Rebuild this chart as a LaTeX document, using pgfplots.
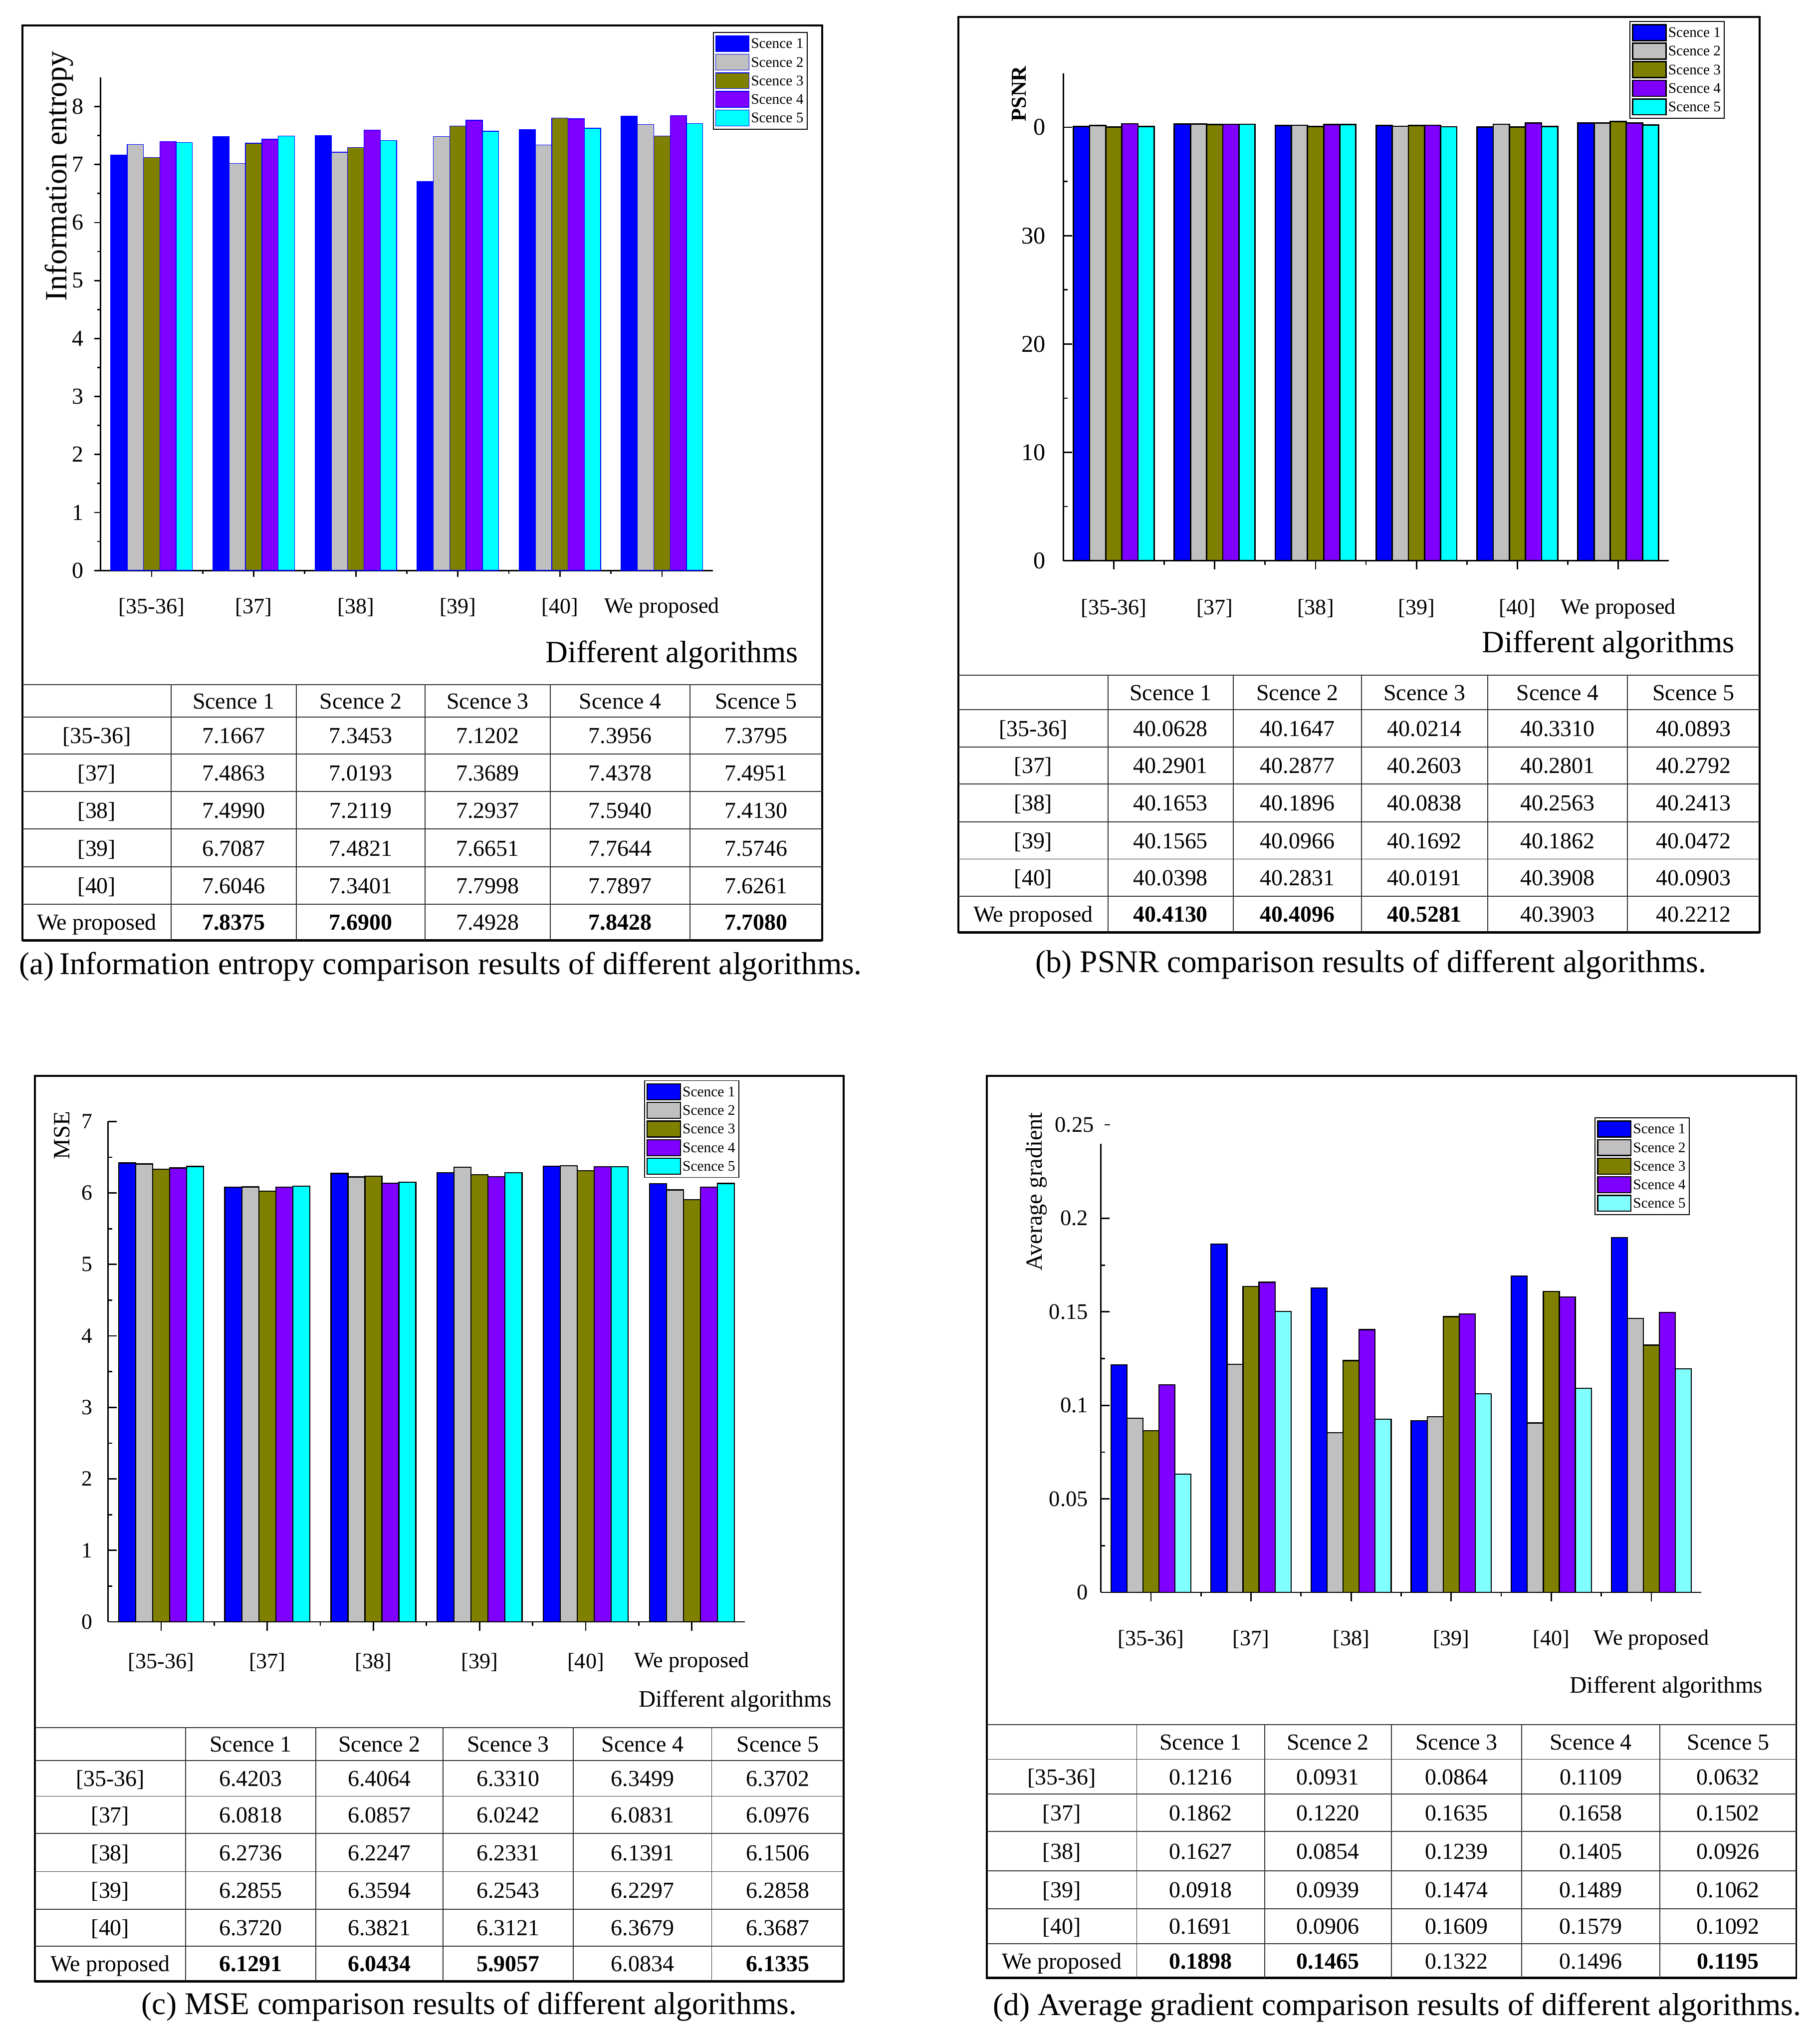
\documentclass[border=0pt]{standalone}
\usepackage{pgfplots}
\usepackage{pgfplotstable}
\pgfplotsset{compat=1.18}
\usepackage{fontspec}
\setmainfont{Liberation Serif}

\definecolor{sc1}{RGB}{0,0,255}
\definecolor{sc2}{RGB}{192,192,192}
\definecolor{sc3}{RGB}{128,128,0}
\definecolor{sc4}{RGB}{128,0,255}
\definecolor{sc5}{RGB}{0,255,255}
\definecolor{sc5d}{RGB}{128,255,255}

\newcommand\fs[1]{\fontsize{#1}{#1}\selectfont}
\def\u{0.2mm}

% rows: [35-36] [37] [38] [39] [40] We proposed
\pgfplotstableread{
s1     s2     s3     s4     s5
7.1667 7.3453 7.1202 7.3956 7.3795
7.4863 7.0193 7.3689 7.4378 7.4951
7.4990 7.2119 7.2937 7.5940 7.4130
6.7087 7.4821 7.6651 7.7644 7.5746
7.6046 7.3401 7.7998 7.7897 7.6261
7.8375 7.6900 7.4928 7.8428 7.7080
}\entropy

\pgfplotstableread{
s1      s2      s3      s4      s5
40.0628 40.1647 40.0214 40.3310 40.0893
40.2901 40.2877 40.2603 40.2801 40.2792
40.1653 40.1896 40.0838 40.2563 40.2413
40.1565 40.0966 40.1692 40.1862 40.0472
40.0398 40.2831 40.0191 40.3908 40.0903
40.4130 40.4096 40.5281 40.3903 40.2212
}\psnr

\pgfplotstableread{
s1     s2     s3     s4     s5
6.4203 6.4064 6.3310 6.3499 6.3702
6.0818 6.0857 6.0242 6.0831 6.0976
6.2736 6.2247 6.2331 6.1391 6.1506
6.2855 6.3594 6.2543 6.2297 6.2858
6.3720 6.3821 6.3121 6.3679 6.3687
6.1291 6.0434 5.9057 6.0834 6.1335
}\mse

\pgfplotstableread{
s1     s2     s3     s4     s5
0.1216 0.0931 0.0864 0.1109 0.0632
0.1862 0.1220 0.1635 0.1658 0.1502
0.1627 0.0854 0.1239 0.1405 0.0926
0.0918 0.0939 0.1474 0.1489 0.1062
0.1691 0.0906 0.1609 0.1579 0.1092
0.1898 0.1465 0.1322 0.1496 0.1195
}\gradient

\pgfplotsset{
  panel/.style={
    scale only axis, anchor=south west, clip=false,
    xmin=-0.5, xmax=5.5, ymin=0,
    axis lines*=left,
    axis line style={line width=0.6pt},
    xtick={0,...,5},
    xticklabels={{[35-36]},{[37]},{[38]},{[39]},{[40]},{We proposed}},
    minor x tick num=1, minor y tick num=1,
    major tick length=1.35mm, minor tick length=0.63mm,
    tick style={black, line width=0.6pt},
    tick align=inside,
    xticklabel style={font=\fs{9.6}, anchor=center, inner sep=0pt},
    yticklabel style={anchor=east, inner sep=0pt},
    ybar=0pt, bar width=0.16,
    legend cell align=left,
    legend image code/.code={\draw[##1] (0mm,-1.22mm) rectangle (5.1mm,1.22mm);},
    legend style={anchor=north west, font=\fs{6.4}, draw=black, line width=0.4pt,
      inner sep=0.3mm, row sep=0pt,
      nodes={inner sep=0.25mm, text height=1.9mm, text depth=0.45mm}},
  },
}

% five series of one panel; #2 is the colour of scene 5
\newcommand\fivebars[2]{%
  \addplot[fill=sc1, bar shift=-0.32] table[x expr=\coordindex, y=s1] {#1};
  \addplot[fill=sc2, bar shift=-0.16] table[x expr=\coordindex, y=s2] {#1};
  \addplot[fill=sc3, bar shift=0]     table[x expr=\coordindex, y=s3] {#1};
  \addplot[fill=sc4, bar shift=0.16]  table[x expr=\coordindex, y=s4] {#1};
  \addplot[fill=#2,  bar shift=0.32]  table[x expr=\coordindex, y=s5] {#1};
  \legend{Scence 1,Scence 2,Scence 3,Scence 4,Scence 5}
}

% table under a chart: #1 data, #2 column borders, #3 row borders, #4 bold flags of last row
\newcommand\datatable[4]{%
  \begin{scope}[every node/.style={font=\fs{10}, inner sep=0pt, text height=6.9pt, text depth=0pt}]
    \pgfmathsetmacro\xl{{#2}[0]}\pgfmathsetmacro\xr{{#2}[6]}
    \pgfmathsetmacro\yt{{#3}[0]}\pgfmathsetmacro\yb{{#3}[7]}
    \foreach \i in {0,...,6}{
      \pgfmathsetmacro\yy{{#3}[\i]}
      \draw[line width=0.4pt, black!80] (\xl,\yy) -- (\xr,\yy);
    }
    \draw[line width=1.1pt] (\xl,\yb) -- (\xr,\yb);
    \foreach \j in {1,...,5}{
      \pgfmathsetmacro\xx{{#2}[\j]}
      \draw[line width=0.4pt, black!80] (\xx,\yt) -- (\xx,\yb);
    }
    \pgfmathsetmacro\ya{{#3}[0]}\pgfmathsetmacro\yc{{#3}[1]}
    \foreach \c in {1,...,5}{
      \pgfmathtruncatemacro\cn{\c+1}
      \pgfmathsetmacro\xa{{#2}[\c]}
      \pgfmathsetmacro\xb{{#2}[\cn]}
      \pgfmathsetmacro\xm{(\xa+\xb)/2}
      \pgfmathsetmacro\ym{(\ya+\yc)/2}
      \node at (\xm,\ym) {Scence \c};
      \pgfmathtruncatemacro\cb{\c-1}
      \pgfmathtruncatemacro\bflag{{#4}[\cb]}
      \foreach \r in {0,...,5}{
        \pgfmathtruncatemacro\ra{\r+1}
        \pgfmathtruncatemacro\rb{\r+2}
        \pgfmathsetmacro\yra{{#3}[\ra]}
        \pgfmathsetmacro\yrb{{#3}[\rb]}
        \pgfmathsetmacro\ym{(\yra+\yrb)/2}
        \edef\tmp{\noexpand\pgfplotstablegetelem{\r}{s\c}\noexpand\of\noexpand#1}\tmp
        \pgfmathtruncatemacro\isb{(\r==5)*\bflag}
        \node at (\xm,\ym) {\ifnum\isb=1 \bfseries\fi\pgfplotsretval};
      }
    }
    \pgfmathsetmacro\xa{{#2}[0]}\pgfmathsetmacro\xb{{#2}[1]}
    \pgfmathsetmacro\xm{(\xa+\xb)/2}
    \foreach \r/\lab in {0/{[35-36]},1/{[37]},2/{[38]},3/{[39]},4/{[40]},5/{We proposed}}{
      \pgfmathtruncatemacro\ra{\r+1}
      \pgfmathtruncatemacro\rb{\r+2}
      \pgfmathsetmacro\yra{{#3}[\ra]}
      \pgfmathsetmacro\yrb{{#3}[\rb]}
      \pgfmathsetmacro\ym{(\yra+\yrb)/2}
      \node at (\xm,\ym) {\lab};
    }
  \end{scope}
}

\begin{document}
\begin{tikzpicture}
\begin{scope}[x=\u, y=-\u]
  \path[use as bounding box] (0,0) rectangle (1394,1568);
  % panel frames
  \draw[line width=0.86pt] (17.3,19.7) rectangle (631,721.4);
  \draw[line width=0.86pt] (735.5,12.9) rectangle (1350.1,715.2);
  \draw[line width=0.86pt] (26.8,825.4) rectangle (647.5,1519.8);
  \draw[line width=0.86pt] (757.1,825.4) rectangle (1378.3,1517.4);

  \datatable{\entropy}{17.3,131.2,227.3,326.2,422.3,529.4,631}{525.2,550,578.5,607,636,665,693.5,721.4}{1,1,0,1,1}
  \datatable{\psnr}{735.5,850.1,946.3,1044.7,1141.4,1248.7,1350.1}{518,544.5,573,601.5,630.5,659,687.5,715.2}{1,1,1,0,0}
  \datatable{\mse}{26.8,142.4,242.3,340,439.9,546.1,647.5}{1325.2,1350.4,1377.9,1406.5,1435.7,1464.5,1493,1519.8}{1,1,1,0,1}
  \datatable{\gradient}{757.1,872.2,970.3,1067.5,1167.7,1273.6,1378.3}{1322.9,1349.6,1376.3,1404.8,1435.3,1464.2,1490.9,1517.4}{1,1,0,0,1}

  \node[font=\fs{13.5}] at (515.5,502.5) {Different algorithms};
  \node[font=\fs{13.5}] at (1234,494.7) {Different algorithms};
  \node[font=\fs{10.3}] at (564,1305) {Different algorithms};
  \node[font=\fs{10.3}] at (1278.6,1294.4) {Different algorithms};

  \node[font=\fs{13.8}] at (338,741.5) {(a)\,Information entropy comparison results of different algorithms.};
  \node[font=\fs{13.8}] at (1051.8,739.8) {(b) PSNR comparison results of different algorithms.};
  \node[font=\fs{13.8}] at (360,1539.2) {(c) MSE comparison results of different algorithms.};
  \node[font=\fs{13.8}] at (1072,1540) {(d) Average gradient comparison results of different algorithms.};
\end{scope}

% (a) information entropy
\begin{axis}[panel, at={(15.44mm,-87.52mm)}, width=93.98mm, height=75.62mm,
  ymax=8.5, ytick={0,1,2,3,4,5,6,7,8}, yticklabels={0,1,2,3,4,5,6,7,8},
  ytick align=outside, major tick length=1mm, minor tick length=0.5mm,
  yticklabel style={font=\fs{10}, xshift=-1.56mm},
  xticklabel style={yshift=-4.7mm},
  ylabel={Information entropy},
  every axis y label/.style={at={(axis description cs:-0.0677,0.8003)}, rotate=90, anchor=center, font=\fs{13.5}},
  legend style={at={(axis description cs:1.0,1.0926)}},
  every axis plot/.append style={draw=sc1, line width=0.3pt},
]
\fivebars{\entropy}{sc5}
\end{axis}

% (b) PSNR
\begin{axis}[panel, at={(163.18mm,-86.02mm)}, width=92.9mm, height=74.8mm,
  ymax=45, ytick={0,10,20,30,40}, yticklabels={0,10,20,30,0},
  yticklabel style={font=\fs{10.5}, xshift=-2.66mm},
  xticklabel style={yshift=-6.0mm},
  ylabel={\bfseries PSNR},
  every axis y label/.style={at={(axis description cs:-0.073,0.9575)}, rotate=90, anchor=center, font=\fs{9.3}},
  legend style={at={(axis description cs:0.9354,1.1072)}},
  every axis plot/.append style={draw=black, line width=0.6pt},
]
\fivebars{\psnr}{sc5}
\end{axis}

% (c) MSE
\begin{axis}[panel, at={(16.58mm,-248.82mm)}, width=97.74mm, height=76.76mm,
  ymax=7, ytick={0,1,2,3,4,5,6,7}, yticklabels={0,1,2,3,4,5,6,7},
  yticklabel style={font=\fs{9.5}, xshift=-2.3mm},
  xticklabel style={yshift=-4.85mm},
  ylabel={MSE},
  every axis y label/.style={at={(axis description cs:-0.0726,0.9721)}, rotate=90, anchor=center, font=\fs{10.2}},
  legend style={at={(axis description cs:0.8418,1.0826)}},
  every axis plot/.append style={draw=black, line width=0.5pt},
]
\fivebars{\mse}{sc5}
\end{axis}

% (d) average gradient
\begin{axis}[panel, at={(168.94mm,-244.3mm)}, width=92.16mm, height=68.86mm,
  ymax=0.24, ytick={0,0.05,0.1,0.15,0.2}, yticklabels={0,0.05,0.1,0.15,0.2},
  yticklabel style={font=\fs{9.7}, xshift=-1.9mm},
  xticklabel style={yshift=-5.9mm},
  ylabel={Average gradient},
  every axis y label/.style={at={(axis description cs:-0.107,0.8931)}, rotate=90, anchor=center, font=\fs{10.1}},
  legend style={at={(axis description cs:0.8223,1.0584)}},
  every axis plot/.append style={draw=black, line width=0.5pt},
]
\fivebars{\gradient}{sc5d}
\node[anchor=east, inner sep=0pt, font=\fs{9.7}] at ([xshift=-1mm]axis cs:-0.5,0.25) {0.25};
\draw[line width=0.6pt] ([xshift=0.6mm]axis cs:-0.5,0.25) -- ([xshift=1.4mm]axis cs:-0.5,0.25);
\end{axis}
\end{tikzpicture}
\end{document}
